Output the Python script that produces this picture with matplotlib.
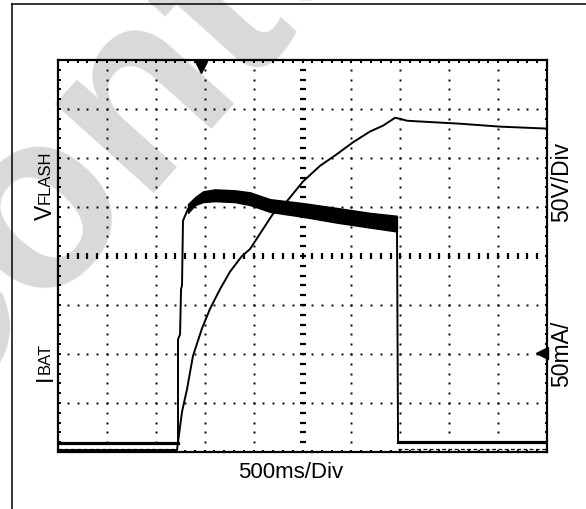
import numpy as np
import matplotlib.pyplot as plt
from matplotlib.ticker import MultipleLocator
from matplotlib.lines import Line2D

plt.rcParams['font.family'] = ['Liberation Sans', 'DejaVu Sans']

# V_FLASH trace: time in ms (500 ms/div), volts (50 V/div)
t_vflash = np.array([0, 1217, 1227, 1268, 1319, 1380, 1472, 1554, 1656, 1759, 1881,
                     1963, 2198, 2342, 2505, 2679, 2853, 3016, 3190, 3323, 3446,
                     3497, 3569, 4110, 4519, 5000])
v_flash = np.array([2, 2, 10, 41, 64, 98, 126, 146, 166, 184, 200,
                    207, 243, 256, 276, 292, 304, 316, 327, 333, 341,
                    340, 338, 335, 332, 330])

# I_BAT trace: time in ms, mA (50 mA/div)
t_ibat = np.array([0, 1217, 1227, 1227, 1248, 1258, 1268, 1278, 1329, 1401, 1483,
                   1605, 1810, 1963, 2168, 2505, 2853, 3190, 3466, 3477, 5000])
i_bat = np.array([9, 9, 9, 115, 120, 166, 170, 236, 248, 255, 260,
                  263, 262, 259, 252, 247, 242, 237, 233, 10, 10])

# noise envelope of I_BAT while charging
t_band = np.array([1329, 1401, 1483, 1605, 1810, 1963, 2168, 2505, 2853, 3190, 3466])
ibat_hi = np.array([253, 260, 266, 268, 267, 265, 258, 254, 249, 244, 241])
ibat_lo = np.array([244, 252, 255, 256, 255, 252, 245, 240, 234, 229, 225])

# channel markers
trig_t, trig_y = 1467, 393
ref_t, ref_y = 4950, 101

fig = plt.figure(figsize=(5.86, 5.10), dpi=100)
W, H = 586, 510

# outer frame of the figure
fig.add_artist(Line2D([12 / W, 1], [1 - 5 / H, 1 - 5 / H], color='black', lw=1.1))
fig.add_artist(Line2D([12 / W, 12 / W], [0, 1 - 5 / H], color='black', lw=1.1))

# watermark
fig.text(185 / W, 1 - 50 / H, 'Content', rotation=48, fontsize=180, fontweight='bold',
         color='#d9d9d9', ha='center', va='center', zorder=-5)

ax = fig.add_axes([58 / W, 57 / H, 489 / W, 392 / H])
ax.set_facecolor('none')
ax.set_xlim(0, 5000)
ax.set_ylim(0, 400)

# scope graticule
ax.xaxis.set_major_locator(MultipleLocator(500))
ax.yaxis.set_major_locator(MultipleLocator(50))
ax.xaxis.set_minor_locator(MultipleLocator(100))
ax.yaxis.set_minor_locator(MultipleLocator(10))
ax.tick_params(which='both', direction='in', length=1.8, width=1.4,
               top=True, right=True, labelbottom=False, labelleft=False)
for s in ax.spines.values():
    s.set_linewidth(1.6)

gy = np.arange(10, 400, 10)
gx = np.arange(100, 5000, 100)
for k in range(1, 10):
    if k == 5:
        continue
    ax.plot(np.full(gy.size, 500 * k), gy, 's', color='black', ms=1.4, mew=0)
for k in range(1, 8):
    if k == 4:
        continue
    ax.plot(gx, np.full(gx.size, 50 * k), 's', color='black', ms=1.4, mew=0)
ax.plot(np.full(gy.size, 2500), gy, '_', color='black', ms=5, mew=1.6)
ax.plot(gx, np.full(gx.size, 200), '|', color='black', ms=5, mew=1.6)

# traces
ax.plot(t_vflash, v_flash, color='black', lw=1.4)
ax.plot(t_ibat[:3], i_bat[:3], color='black', lw=2.3)
ax.plot(t_ibat[-2:], i_bat[-2:], color='black', lw=2.3)
ax.plot(t_ibat, i_bat, color='black', lw=1.4)
ax.fill_between(t_band, ibat_lo, ibat_hi, color='black', lw=1)
ax.plot([0, 1217], [3, 3], color='black', lw=0.9, ls=(0, (3, 2)))
ax.plot([3477, 5000], [3, 3], color='black', lw=0.9, ls=(0, (3, 2)))

ax.plot([trig_t], [trig_y], 'v', color='black', ms=8, clip_on=False)
ax.plot([ref_t], [ref_y], '<', color='black', ms=8, clip_on=False)

# labels
fig.text(52 / W, 1 - 220 / H, 'V', rotation=90, rotation_mode='anchor',
         ha='left', va='baseline', fontsize=16.5)
fig.text(50 / W, 1 - 204 / H, 'FLASH', rotation=90, rotation_mode='anchor',
         ha='left', va='baseline', fontsize=12)
fig.text(52 / W, 1 - 381 / H, 'I', rotation=90, rotation_mode='anchor',
         ha='left', va='baseline', fontsize=16.5)
fig.text(50 / W, 1 - 374 / H, 'BAT', rotation=90, rotation_mode='anchor',
         ha='left', va='baseline', fontsize=12)
fig.text(568 / W, 1 - 222 / H, '50V/Div', rotation=90, rotation_mode='anchor',
         ha='left', va='baseline', fontsize=16.5)
fig.text(568 / W, 1 - 387 / H, '50mA/', rotation=90, rotation_mode='anchor',
         ha='left', va='baseline', fontsize=16.5)
fig.text(291 / W, 1 - 478 / H, '500ms/Div', ha='center', va='baseline', fontsize=16)

plt.savefig('out.png', dpi=100)
